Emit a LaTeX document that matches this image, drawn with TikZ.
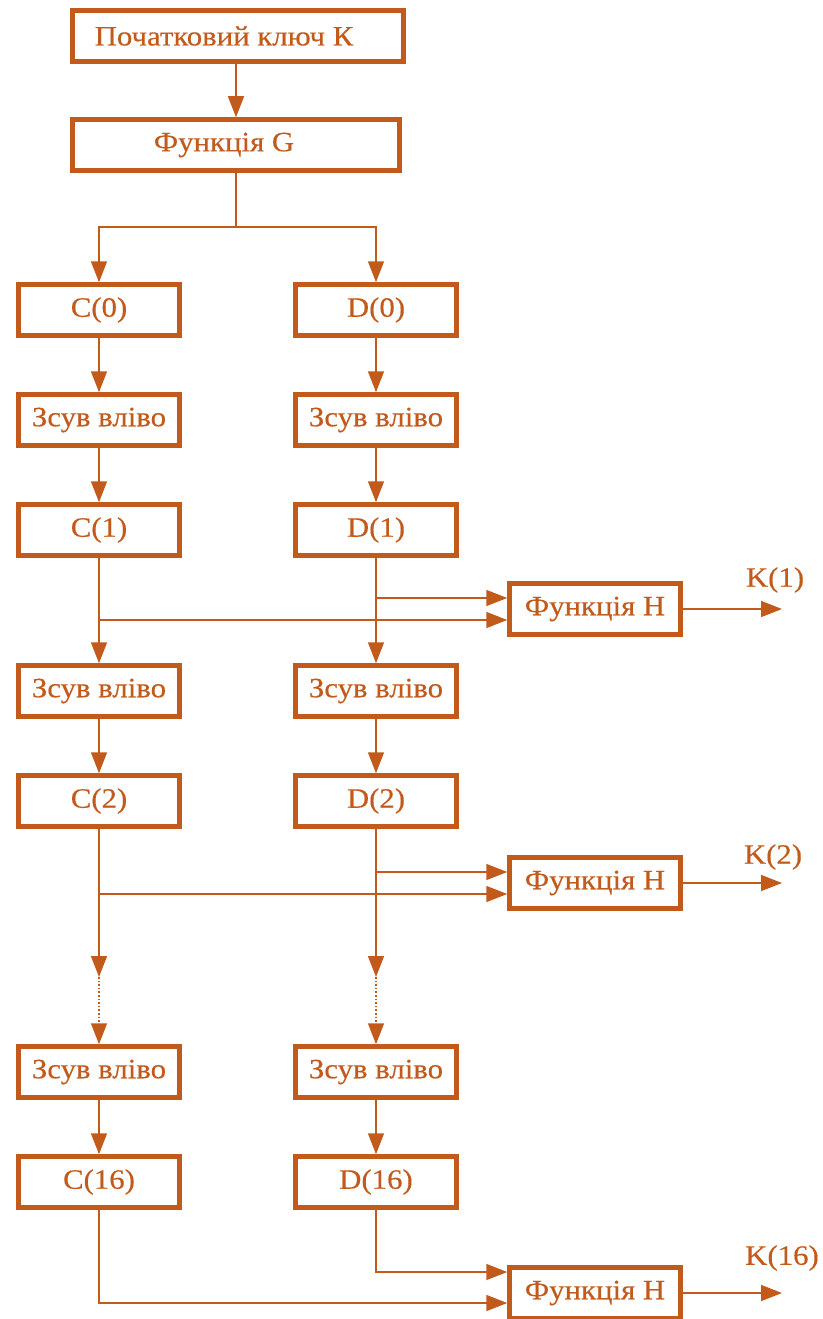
\documentclass[tikz,border=0pt]{standalone}
\usepackage{fontspec}
\setmainfont{Liberation Serif}[FakeStretch=1.1,FakeBold=0.4]
\usetikzlibrary{arrows.meta,calc}
\definecolor{brn}{RGB}{194,90,28}
\begin{document}
\begin{tikzpicture}[x=1pt,y=-1pt,
 box/.style={draw=brn, line width=4.5pt, text=brn, minimum height=51pt, inner sep=0pt, font=\fontsize{28}{32}\selectfont},
 cbox/.style={box, minimum width=161pt},
 hbox/.style={box, minimum width=171pt},
 arr/.style={draw=brn, line width=1.6pt, -{Triangle[length=21pt,width=16pt]}},
 ln/.style={draw=brn, line width=1.6pt},
 lbl/.style={text=brn, font=\fontsize{28}{32}\selectfont}]
\useasboundingbox (0,0) rectangle (822,1319);
\node[box, minimum width=331pt] (K) at (238,36) {Початковий ключ К\kern28pt};
\node[box, minimum width=327pt] (G) at (236,145) {Функція G\kern24pt};
\node[cbox] (C0) at (99,310) {C(0)};
\node[cbox] (D0) at (376,310) {D(0)};
\node[cbox] (Cz1) at (99,420) {Зсув вліво};
\node[cbox] (Dz1) at (376,420) {Зсув вліво};
\node[cbox] (C1) at (99,530) {C(1)};
\node[cbox] (D1) at (376,530) {D(1)};
\node[cbox] (Cz2) at (99,691) {Зсув вліво};
\node[cbox] (Dz2) at (376,691) {Зсув вліво};
\node[cbox] (C2) at (99,801) {C(2)};
\node[cbox] (D2) at (376,801) {D(2)};
\node[cbox] (Cz3) at (99,1072) {Зсув вліво};
\node[cbox] (Dz3) at (376,1072) {Зсув вліво};
\node[cbox] (C16) at (99,1182) {C(16)};
\node[cbox] (D16) at (376,1182) {D(16)};
\node[hbox] (H1) at (595,609) {Функція H};
\node[hbox] (H2) at (595,883) {Функція H};
\node[hbox] (H3) at (595,1293) {Функція H};
\node[lbl] (K1) at (775,580) {K(1)};
\node[lbl] (K2) at (773,857) {K(2)};
\node[lbl] (K16) at (782,1258) {K(16)};
% top
\draw[arr] (G.north |- K.south) -- (G.north);
\coordinate (split) at ($(G.south)+(0,54)$);
\draw[ln] (G.south) -- (split);
\draw[arr] (split) -| (C0.north);
\draw[arr] (split) -| (D0.north);
% columns
\draw[arr] (C0) -- (Cz1);
\draw[arr] (D0) -- (Dz1);
\draw[arr] (Cz1) -- (C1);
\draw[arr] (Dz1) -- (D1);
\draw[arr] (C1) -- (Cz2);
\draw[arr] (D1) -- (Dz2);
\draw[arr] (Cz2) -- (C2);
\draw[arr] (Dz2) -- (D2);
\draw[arr] (Cz3) -- (C16);
\draw[arr] (Dz3) -- (D16);
% H1
\coordinate (h1c) at ([yshift=-11pt]H1.west);
\coordinate (h1d) at ([yshift=11pt]H1.west);
\draw[arr] (C1.south |- h1c) -- (h1c);
\draw[arr] (D1.south |- h1d) -- (h1d);
\coordinate (o1) at (782,609);
\draw[arr] (H1) -- (o1);
% H2
\coordinate (h2c) at ([yshift=-11pt]H2.west);
\coordinate (h2d) at ([yshift=11pt]H2.west);
\draw[arr] (C2.south |- h2c) -- (h2c);
\draw[arr] (D2.south |- h2d) -- (h2d);
\coordinate (o2) at (782,883);
\draw[arr] (H2) -- (o2);
% dotted gap
\coordinate (cm) at (99,977);
\coordinate (dm) at (376,977);
\draw[arr] (C2) -- (cm);
\draw[arr] (D2) -- (dm);
\draw[arr, dotted] (cm) -- (Cz3);
\draw[arr, dotted] (dm) -- (Dz3);
% H3
\coordinate (h3c) at ([yshift=-10pt]H3.west);
\coordinate (h3d) at ([yshift=21pt]H3.west);
\draw[arr] (C16.south) |- (h3c);
\draw[arr] (D16.south) |- (h3d);
\coordinate (o3) at (782,1293);
\draw[arr] (H3) -- (o3);
\end{tikzpicture}
\end{document}
